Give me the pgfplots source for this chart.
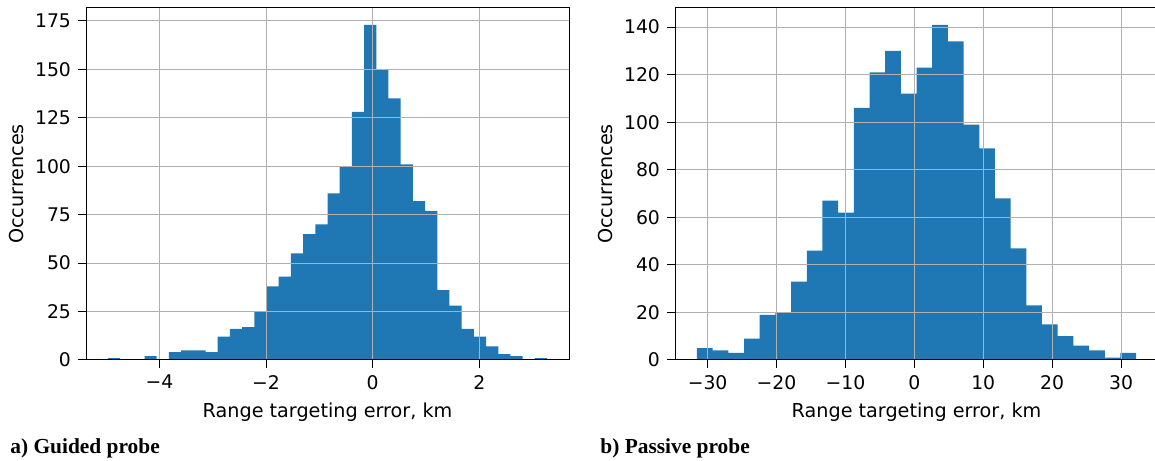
\documentclass[border=0pt]{standalone}
\usepackage{fontspec}
\setmainfont{DejaVu Sans}
\newfontfamily\capfont{Liberation Serif}
\usepackage{pgfplots}
\pgfplotsset{compat=1.18}
\definecolor{mplblue}{HTML}{1F77B4}
\definecolor{gridgray}{HTML}{B0B0B0}

\pgfplotsset{
  histax/.style={
    width=241.5pt, height=176pt, scale only axis,
    ymin=0,
    axis on top,
    grid=major,
    grid style={gridgray, line width=0.5pt},
    axis line style={black, line width=0.5pt},
    tick style={black, line width=0.5pt},
    tick align=outside,
    major tick length=4pt,
    xtick pos=bottom, ytick pos=left,
    /pgf/number format/assume math mode=true,
    tick label style={font=\fontsize{9.4}{11}\selectfont},
    label style={font=\fontsize{9.6}{11}\selectfont},
    xlabel={Range targeting error, km},
    ylabel={Occurrences},
    xlabel style={yshift=0pt},
    ylabel style={yshift=-1pt},
  },
}

\begin{document}
\begin{tikzpicture}
\useasboundingbox (0,0) rectangle (577.5pt,230pt);

% a) guided probe, 36 bins
\begin{axis}[histax, at={(43pt,50pt)}, anchor=south west,
  xmin=-5.378, xmax=3.682, ymax=181.65,
  xtick={-4,-2,0,2}, xticklabels={−4,−2,0,2},
  ytick={0,25,50,75,100,125,150,175}]
\addplot[const plot, fill=mplblue, draw=none] coordinates {
(-4.966,1) (-4.737,0) (-4.508,0) (-4.280,2) (-4.051,0) (-3.822,4)
(-3.593,5) (-3.364,5) (-3.136,4) (-2.907,12) (-2.678,16) (-2.449,17)
(-2.220,25) (-1.992,38) (-1.763,43) (-1.534,55) (-1.305,65) (-1.076,70)
(-0.848,86) (-0.619,100) (-0.390,128) (-0.161,173) (0.068,150) (0.296,135)
(0.525,101) (0.754,82) (0.983,77) (1.212,36) (1.440,28) (1.669,16)
(1.898,12) (2.127,7) (2.356,3) (2.584,2) (2.813,0) (3.042,1) (3.271,1)
} \closedcycle;
\end{axis}

% b) passive probe, 28 bins
\begin{axis}[histax, at={(337.5pt,50pt)}, anchor=south west,
  xmin=-34.73, xmax=35.37, ymax=148.05,
  xtick={-30,-20,-10,0,10,20,30}, xticklabels={−30,−20,−10,0,10,20,30},
  ytick={0,20,40,60,80,100,120,140}]
\addplot[const plot, fill=mplblue, draw=none] coordinates {
(-31.54,5) (-29.26,4) (-26.99,3) (-24.71,9) (-22.44,19) (-20.16,20)
(-17.88,33) (-15.61,46) (-13.33,67) (-11.06,62) (-8.78,106) (-6.50,121)
(-4.23,130) (-1.95,112) (0.32,123) (2.60,141) (4.88,134) (7.15,99)
(9.43,89) (11.70,68) (13.98,47) (16.26,23) (18.53,15) (20.81,10)
(23.08,6) (25.36,4) (27.64,1) (29.91,3) (32.19,3)
} \closedcycle;
\end{axis}

\node[anchor=base west, inner sep=0pt, font=\capfont\bfseries\fontsize{10.7}{12}\selectfont] at (5pt,3.5pt) {a) Guided probe};
\node[anchor=base west, inner sep=0pt, font=\capfont\bfseries\fontsize{10.7}{12}\selectfont] at (300pt,3.5pt) {b) Passive probe};
\end{tikzpicture}
\end{document}
